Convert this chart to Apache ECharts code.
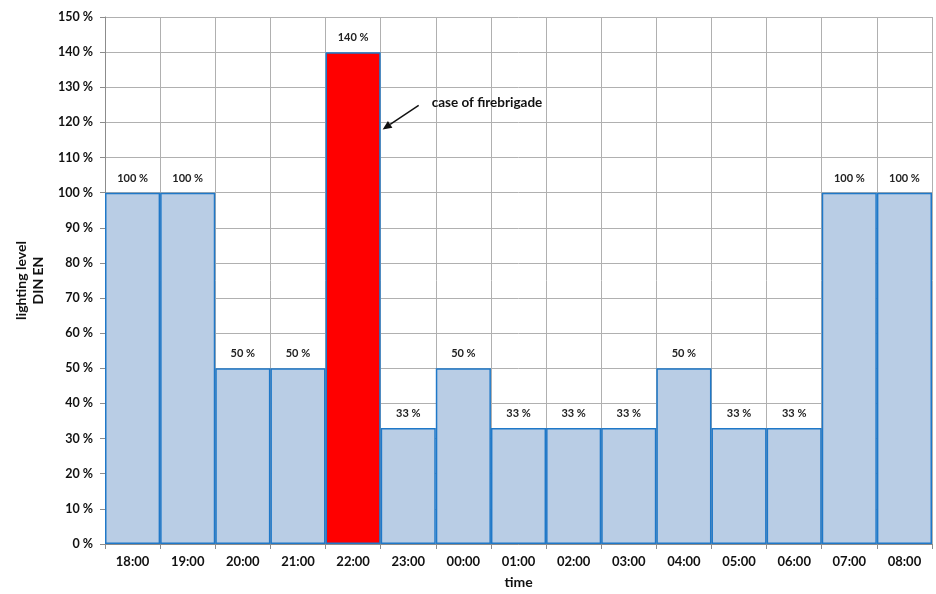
<!DOCTYPE html>
<html><head><meta charset="utf-8">
<script src="https://cdn.jsdelivr.net/npm/echarts@6/dist/echarts.min.js"></script>
<style>html,body{margin:0;padding:0;background:#fff;overflow:hidden}#c{width:936px;height:594px}</style>
</head><body><div id="c"></div>
<script>
const categories = ['18:00','19:00','20:00','21:00','22:00','23:00','00:00','01:00','02:00','03:00','04:00','05:00','06:00','07:00','08:00'];
const values = [100,100,50,50,140,33,50,33,33,33,50,33,33,100,100];
const highlightCategory = '22:00';
const annotationText = 'case of firebrigade';
const annotationValue = 118;
const yMin = 0, yMax = 150, yInterval = 10;

const FONT = 'Lato';
const chart = echarts.init(document.getElementById('c'), null, {renderer: 'canvas'});

const seriesData = values.map((v, i) => {
  const hi = categories[i] === highlightCategory;
  return {
    value: v,
    itemStyle: hi ? {color: '#FF0000', borderColor: '#1F78C8'} : {}
  };
});

chart.setOption({
  animation: false,
  backgroundColor: '#fff',
  grid: {left: 105, right: 4, top: 17, bottom: 46, containLabel: false},
  xAxis: {
    type: 'category',
    data: categories,
    boundaryGap: true,
    name: 'time',
    nameLocation: 'middle',
    nameGap: 31,
    nameTextStyle: {fontFamily: FONT, fontWeight: 'bold', fontSize: 14, color: '#111'},
    axisLine: {lineStyle: {color: '#8c8c8c', width: 1}},
    axisTick: {show: true, length: 5, lineStyle: {color: '#8c8c8c'}},
    axisLabel: {fontFamily: FONT, fontWeight: 'bold', fontSize: 13, color: '#111', margin: 11},
    splitLine: {show: true, lineStyle: {color: '#b0b0b0', width: 1}}
  },
  yAxis: {
    type: 'value',
    min: yMin, max: yMax, interval: yInterval,
    name: 'lighting level\nDIN EN',
    nameLocation: 'middle',
    nameGap: 56,
    nameRotate: 90,
    nameTextStyle: {fontFamily: FONT, fontWeight: 'bold', fontSize: 14, color: '#111', lineHeight: 17},
    axisLine: {show: true, lineStyle: {color: '#8c8c8c', width: 1}},
    axisTick: {show: true, length: 5, lineStyle: {color: '#8c8c8c'}},
    axisLabel: {fontFamily: FONT, fontWeight: 'bold', fontSize: 12.5, color: '#111', margin: 12, formatter: '{value} %'},
    splitLine: {show: true, lineStyle: {color: '#b0b0b0', width: 1}}
  },
  series: [{
    type: 'bar',
    data: seriesData,
    barCategoryGap: '0%',
    itemStyle: {color: '#B9CDE5', borderColor: '#1F78C8', borderWidth: 1.5},
    label: {
      show: true, position: 'top', distance: 9,
      formatter: p => p.value + ' %',
      fontFamily: FONT, fontWeight: 'bold', fontSize: 11, color: '#222'
    }
  }]
});

// annotation arrow placed relative to highlighted bar
const idx = categories.indexOf(highlightCategory);
const p = chart.convertToPixel({xAxisIndex: 0, yAxisIndex: 0}, [idx, annotationValue]);
const p2 = chart.convertToPixel({xAxisIndex: 0, yAxisIndex: 0}, [idx + 1, annotationValue]);
const halfBand = (p2[0] - p[0]) / 2;
const tip = [p[0] + halfBand + 2, p[1]];
const start = [tip[0] + 36, tip[1] - 24];
const dx = tip[0] - start[0], dy = tip[1] - start[1];
const len = Math.sqrt(dx*dx + dy*dy);
const ux = dx/len, uy = dy/len;
const hl = 9, hw = 4;
const base = [tip[0] - ux*hl, tip[1] - uy*hl];
const head = [tip, [base[0] - uy*hw, base[1] + ux*hw], [base[0] + uy*hw, base[1] - ux*hw]];

chart.setOption({
  graphic: [
    {type: 'line', shape: {x1: start[0], y1: start[1], x2: base[0], y2: base[1]}, style: {stroke: '#111', lineWidth: 1.5}, z: 100},
    {type: 'polygon', shape: {points: head}, style: {fill: '#111'}, z: 100},
    {type: 'text', x: start[0] + 13, y: start[1] - 3, style: {text: annotationText, fontFamily: FONT, fontWeight: 'bold', fontSize: 13.5, fill: '#111', verticalAlign: 'middle', align: 'left'}, z: 100}
  ]
});
</script></body></html>
